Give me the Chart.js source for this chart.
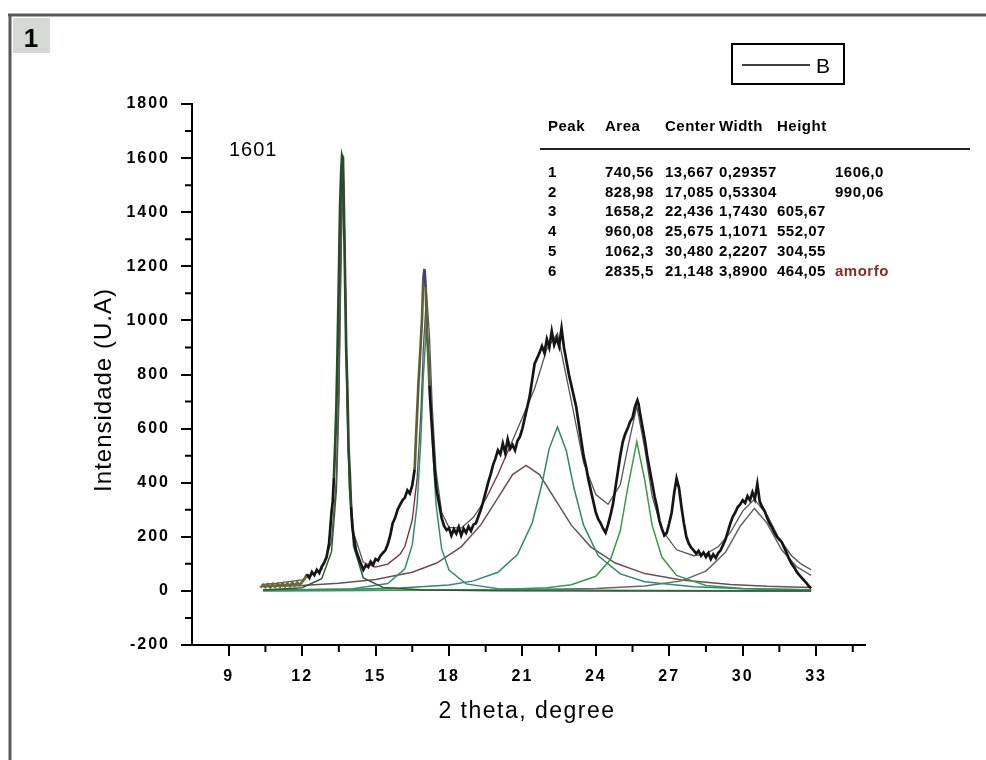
<!DOCTYPE html>
<html>
<head>
<meta charset="utf-8">
<script src="https://cdn.jsdelivr.net/npm/chart.js@4.4.1/dist/chart.umd.min.js"></script>
<style>
  body { margin: 0; background: #fff; }
  canvas { display: block; }
</style>
</head>
<body>
<canvas id="grafico" width="986" height="760"></canvas>
<script>
/**
 */
const tickX = [9, 12, 15, 18, 21, 24, 27, 30, 33];
const tickY = [-200, 0, 200, 400, 600, 800, 1000, 1200, 1400, 1600, 1800];
const minorX = [10.5, 13.5, 16.5, 19.5, 22.5, 25.5, 28.5, 31.5, 34.5];
const minorY = [-100, 100, 300, 500, 700, 900, 1100, 1300, 1500, 1700];

// curva medida (preta, com ruido)
const observado = [
  [10.3,12],[10.4,22],[10.5,14],[10.6,24],[10.7,13],[10.8,25],[10.9,15],[11.0,26],[11.1,16],[11.2,27],
  [11.3,17],[11.4,28],[11.5,18],[11.6,30],[11.7,20],[11.8,31],[11.9,22],[12.0,33],[12.1,45],[12.2,62],
  [12.3,48],[12.4,70],[12.5,58],[12.6,78],[12.7,66],[12.8,90],[12.9,104],[13.0,125],[13.05,150],[13.1,175],
  [13.15,230],[13.2,290],[13.25,330],[13.3,420],[13.35,540],[13.4,680],[13.45,900],[13.5,1150],[13.55,1420],[13.6,1560],
  [13.63,1605],[13.67,1590],[13.7,1450],[13.75,1180],[13.8,900],[13.85,740],[13.9,520],[13.95,430],[14.0,310],[14.05,240],
  [14.1,205],[14.2,150],[14.3,125],[14.4,100],[14.5,78],[14.6,95],[14.7,88],[14.8,108],[14.9,96],[15.0,118],
  [15.1,112],[15.2,130],[15.3,140],[15.4,150],[15.5,172],[15.6,205],[15.7,250],[15.8,270],[15.9,300],[16.0,318],
  [16.1,335],[16.2,345],[16.3,372],[16.4,360],[16.5,390],[16.55,420],[16.6,450],[16.65,560],[16.7,660],[16.75,760],
  [16.8,840],[16.85,920],[16.9,1010],[16.95,1150],[17.0,1190],[17.05,1120],[17.1,960],[17.15,880],[17.2,760],[17.25,680],
  [17.3,610],[17.35,540],[17.4,470],[17.45,410],[17.5,370],[17.6,320],[17.7,270],[17.8,240],[17.9,225],[18.0,232],
  [18.1,205],[18.2,228],[18.3,212],[18.4,236],[18.5,205],[18.6,230],[18.7,215],[18.8,238],[18.9,222],[19.0,245],
  [19.1,250],[19.2,275],[19.3,300],[19.4,330],[19.5,365],[19.6,400],[19.7,430],[19.8,465],[19.9,490],[20.0,520],
  [20.1,505],[20.2,545],[20.3,510],[20.4,560],[20.5,525],[20.6,540],[20.7,520],[20.8,555],[20.9,570],[21.0,600],
  [21.1,640],[21.2,680],[21.3,720],[21.4,780],[21.5,840],[21.6,860],[21.7,880],[21.8,905],[21.9,880],[22.0,930],
  [22.1,900],[22.2,960],[22.3,910],[22.4,935],[22.5,905],[22.6,970],[22.7,900],[22.8,850],[22.9,800],[23.0,760],
  [23.1,720],[23.2,680],[23.3,620],[23.4,560],[23.5,500],[23.6,460],[23.7,410],[23.8,370],[23.9,330],[24.0,290],
  [24.1,265],[24.2,250],[24.3,230],[24.4,215],[24.5,245],[24.6,280],[24.7,320],[24.8,380],[24.9,440],[25.0,500],
  [25.1,550],[25.2,580],[25.3,600],[25.4,625],[25.5,640],[25.6,680],[25.7,705],[25.75,690],[25.8,660],[25.9,610],
  [26.0,560],[26.1,500],[26.2,450],[26.3,400],[26.4,350],[26.5,310],[26.6,260],[26.7,230],[26.8,205],[26.9,215],
  [27.0,250],[27.1,290],[27.2,360],[27.3,415],[27.4,380],[27.5,310],[27.6,250],[27.7,200],[27.8,175],[27.9,160],
  [28.0,150],[28.1,138],[28.2,148],[28.3,130],[28.4,142],[28.5,125],[28.6,140],[28.7,118],[28.8,135],[28.9,122],
  [29.0,140],[29.1,150],[29.2,170],[29.3,190],[29.4,220],[29.5,250],[29.6,275],[29.7,290],[29.8,310],[29.9,320],
  [30.0,335],[30.1,325],[30.2,350],[30.3,335],[30.4,365],[30.5,340],[30.6,395],[30.7,330],[30.8,310],[30.9,295],
  [31.0,270],[31.1,250],[31.2,235],[31.3,215],[31.4,200],[31.5,190],[31.6,180],[31.7,160],[31.8,140],[31.9,118],
  [32.0,100],[32.1,88],[32.2,72],[32.3,60],[32.4,50],[32.5,40],[32.6,30],[32.7,18],[32.8,10]
];

// picos ajustados (Lorentz)
const pico1 = [[10.4,3],[12.0,12],[12.8,45],[13.2,144],[13.4,373],[13.5,700],[13.58,1189],[13.667,1606],[13.75,1217],[13.83,719],[13.93,381],[14.1,166],[14.5,48],[15.3,13],[17,3],[20,1],[25,0],[32.8,0]];
const pico2 = [[10.4,2],[14,7],[15.5,27],[16.2,82],[16.5,170],[16.7,321],[16.85,557],[16.95,788],[17.085,990],[17.2,835],[17.32,557],[17.47,321],[17.7,156],[18,77],[18.7,26],[20,8],[24,2],[32.8,0]];
const pico3 = [[10.4,3],[14,6],[16,11],[18,22],[19,37],[20,69],[20.8,134],[21.4,251],[21.8,395],[22.1,527],[22.436,606],[22.8,516],[23.1,383],[23.5,243],[24.1,130],[25,63],[26,34],[28,15],[30,8],[32.8,4]];
const pico4 = [[10.4,1],[16,2],[20,5],[22,12],[23,23],[24,54],[24.6,116],[25,222],[25.3,378],[25.675,552],[26,410],[26.3,243],[26.7,125],[27.3,57],[28.5,20],[30,9],[32.8,3]];
const pico5 = [[10.4,1],[16,2],[20,3],[24,9],[26,18],[27.5,37],[28.5,73],[29.3,143],[29.9,239],[30.48,305],[31,250],[31.6,151],[32.2,90],[32.8,57]];
const pico6 = [[10.4,15],[12,20],[13.5,28],[15,42],[16.5,69],[17.5,103],[18.5,163],[19.3,244],[20,344],[20.6,430],[21.148,464],[21.7,430],[22.3,344],[23,243],[23.8,162],[24.8,103],[26,64],[27.5,40],[29.5,24],[31,17],[32.8,13]];

// soma dos picos
const ajuste = [
  [10.4,24],[11,29],[12,41],[12.8,79],[13.2,182],[13.4,413],[13.5,741],[13.58,1200],[13.667,1612],[13.75,1230],
  [13.83,764],[13.93,427],[14.1,215],[14.5,105],[15,88],[15.5,99],[16,135],[16.2,165],[16.5,262],[16.7,417],
  [16.85,657],[16.95,891],[17.085,1099],[17.2,948],[17.32,674],[17.47,445],[17.7,291],[18,235],[18.5,232],[19,272],
  [19.5,339],[20,430],[20.5,536],[21,641],[21.5,748],[22,894],[22.436,952],[23,702],[23.5,474],[24,356],
  [24.5,320],[25,392],[25.3,528],[25.675,682],[26,527],[26.3,351],[26.7,225],[27.3,152],[28,130],[28.5,137],
  [29,163],[29.5,216],[30,295],[30.48,339],[31,280],[31.5,192],[32,130],[32.4,99],[32.8,78]
];

const tabelaCabecalho = ["Peak", "Area", "Center", "Width", "Height"];
const tabelaLinhas = [
  ["1", "740,56", "13,667", "0,29357", "", "1606,0"],
  ["2", "828,98", "17,085", "0,53304", "", "990,06"],
  ["3", "1658,2", "22,436", "1,7430", "605,67", ""],
  ["4", "960,08", "25,675", "1,1071", "552,07", ""],
  ["5", "1062,3", "30,480", "2,2207", "304,55", ""],
  ["6", "2835,5", "21,148", "3,8900", "464,05", "amorfo"],
];

const fonte = '"Liberation Sans", Arial, sans-serif';
Chart.defaults.font.family = fonte;

function paraPontos(lista) {
  return lista.map(p => ({ x: p[0], y: p[1] }));
}

// cor da curva medida por trecho (o original tem cores misturadas)
function corObservado(x) {
  if (x < 12.15) return "#6b6a35";
  if (x >= 13.3 && x < 14.0) return "#2b4a2b";
  if (x >= 16.95 && x < 17.05) return "#4b3b78";
  if (x >= 16.6 && x < 17.2) return "#5f5f35";
  return "#151515";
}

function corAjuste(x) {
  if ((x >= 14.3 && x < 16.7) || (x >= 19.3 && x < 20.4)) return "#7a2a3a";
  return "#555555";
}

function linha(dados, cor, largura) {
  return {
    data: paraPontos(dados),
    borderColor: cor,
    borderWidth: largura,
    pointRadius: 0,
    tension: 0,
    fill: false,
  };
}

const decoracao = {
  id: "decoracao",
  beforeDraw(chart) {
    const ctx = chart.ctx;
    ctx.save();
    ctx.fillStyle = "#fff";
    ctx.fillRect(0, 0, chart.width, chart.height);
    ctx.restore();
    // espacamento das letras dos ticks
    ctx.letterSpacing = "2px";
  },
  afterDraw(chart) {
    const ctx = chart.ctx;
    const sx = chart.scales.x;
    const sy = chart.scales.y;
    ctx.save();
    ctx.letterSpacing = "0px";

    // ticks menores
    ctx.strokeStyle = "#000";
    ctx.lineWidth = 2;
    ctx.beginPath();
    for (const v of minorX) {
      const px = sx.getPixelForValue(v);
      ctx.moveTo(px, sx.top);
      ctx.lineTo(px, sx.top + 7);
    }
    for (const v of minorY) {
      const py = sy.getPixelForValue(v);
      ctx.moveTo(sy.right, py);
      ctx.lineTo(sy.right - 7, py);
    }
    ctx.stroke();

    // moldura da janela
    ctx.strokeStyle = "#5a5a5a";
    ctx.lineWidth = 3;
    ctx.beginPath();
    ctx.moveTo(8, 15);
    ctx.lineTo(986, 15);
    ctx.moveTo(10, 15);
    ctx.lineTo(10, 760);
    ctx.stroke();

    ctx.fillStyle = "#d5d9d5";
    ctx.fillRect(13, 18, 37, 35);
    ctx.fillStyle = "#000";
    ctx.font = "bold 26px " + fonte;
    ctx.textAlign = "center";
    ctx.textBaseline = "alphabetic";
    ctx.fillText("1", 31, 47);

    // legenda
    ctx.strokeStyle = "#000";
    ctx.lineWidth = 2;
    ctx.strokeRect(732, 44, 112, 40);
    ctx.lineWidth = 1.5;
    ctx.beginPath();
    ctx.moveTo(742, 65);
    ctx.lineTo(810, 65);
    ctx.stroke();
    ctx.font = "21px " + fonte;
    ctx.textAlign = "left";
    ctx.fillText("B", 816, 73);

    // tabela dos picos
    const colunas = [548, 605, 665, 719, 777, 835];
    ctx.font = "bold 15px " + fonte;
    ctx.letterSpacing = "0.5px";
    tabelaCabecalho.forEach((t, i) => ctx.fillText(t, colunas[i], 131));
    ctx.lineWidth = 2;
    ctx.strokeStyle = "#222";
    ctx.beginPath();
    ctx.moveTo(540, 149);
    ctx.lineTo(970, 149);
    ctx.stroke();
    tabelaLinhas.forEach((linhaTab, j) => {
      const y = 177 + j * 19.7;
      linhaTab.forEach((t, i) => {
        ctx.fillStyle = t === "amorfo" ? "#8b2a2a" : "#000";
        ctx.fillText(t, colunas[i], y);
      });
    });

    // rotulos
    ctx.fillStyle = "#000";
    ctx.font = "20px " + fonte;
    ctx.letterSpacing = "1px";
    ctx.fillText("1601", 229, 156);

    ctx.font = "23px " + fonte;
    ctx.letterSpacing = "1.5px";
    ctx.textAlign = "center";
    ctx.fillText("2 theta, degree", 527, 718);

    ctx.translate(111, 390);
    ctx.rotate(-Math.PI / 2);
    ctx.font = "24px " + fonte;
    ctx.letterSpacing = "1px";
    ctx.fillText("Intensidade (U.A)", 0, 0);
    ctx.restore();
  },
};

const dadosGrafico = {
  datasets: [
    Object.assign(linha(observado, "#151515", 2.7), {
      segment: { borderColor: c => corObservado(c.p0.parsed.x) },
    }),
    Object.assign(linha(ajuste, "#555555", 1.3), {
      segment: { borderColor: c => corAjuste(c.p0.parsed.x) },
    }),
    linha(pico1, "#2d5a2d", 1.5),
    linha(pico2, "#2f8f70", 1.5),
    linha(pico3, "#2e8a6a", 1.5),
    linha(pico4, "#3a9a4a", 1.5),
    linha(pico5, "#666666", 1.5),
    linha(pico6, "#6b4f4f", 1.5),
  ],
};

const fonteTicks = { family: fonte, size: 16, weight: "bold" };

new Chart(document.getElementById("grafico"), {
  type: "line",
  data: dadosGrafico,
  plugins: [decoracao],
  options: {
    responsive: false,
    animation: false,
    layout: { padding: { top: 104, right: 121, left: 0, bottom: 0 } },
    plugins: { legend: { display: false }, tooltip: { enabled: false } },
    scales: {
      x: {
        type: "linear",
        min: 7.5,
        max: 35,
        afterFit: s => { s.height = 115; },
        afterBuildTicks: s => { s.ticks = tickX.map(v => ({ value: v })); },
        ticks: { font: fonteTicks, color: "#000", padding: 11, maxRotation: 0, callback: v => String(v) },
        grid: { drawOnChartArea: false, drawTicks: true, tickLength: 11, color: "#000", lineWidth: 2 },
        border: { display: true, color: "#000", width: 2 },
      },
      y: {
        type: "linear",
        min: -200,
        max: 1800,
        afterFit: s => { s.width = 192; },
        afterBuildTicks: s => { s.ticks = tickY.map(v => ({ value: v })); },
        ticks: { font: fonteTicks, color: "#000", padding: 11, callback: v => String(v) },
        grid: { drawOnChartArea: false, drawTicks: true, tickLength: 11, color: "#000", lineWidth: 2 },
        border: { display: true, color: "#000", width: 2 },
      },
    },
  },
});
</script>
</body>
</html>
